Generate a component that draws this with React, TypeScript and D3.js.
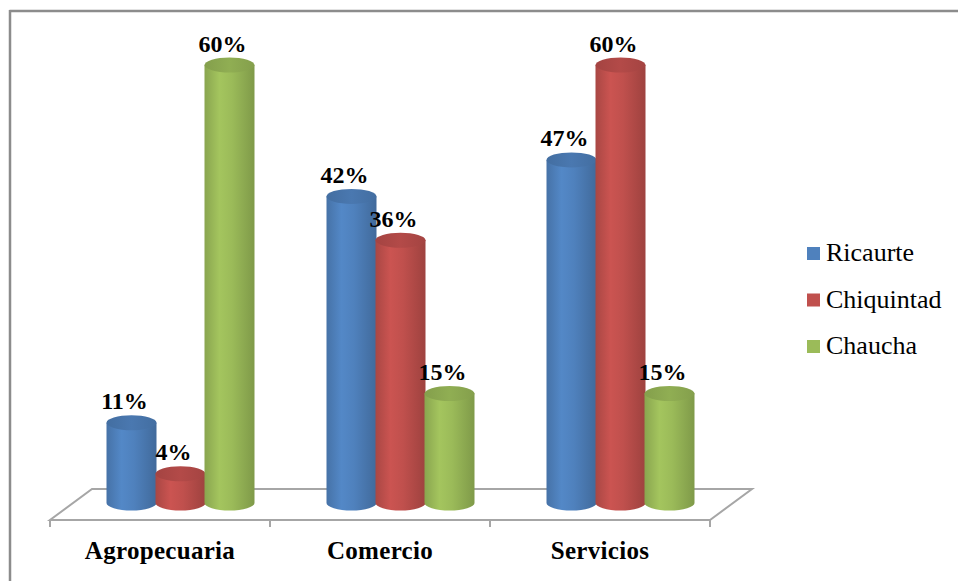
import React from "react";
import * as d3 from "d3";

const categories = ["Agropecuaria", "Comercio", "Servicios"];
const seriesNames = ["Ricaurte", "Chiquintad", "Chaucha"];
const ricaurte = [11, 42, 47];
const chiquintad = [4, 36, 60];
const chaucha = [60, 15, 15];
const seriesValues = [ricaurte, chiquintad, chaucha];
const colors = ["#4F81BD", "#C0504D", "#9BBB59"];

const W = 958;
const H = 581;

export default function App() {
  const floorFrontY = 520;
  const floorBackY = 489;
  const depthDx = 42;
  const x = d3.scaleBand<string>().domain(categories).range([50, 710]).padding(0);
  const y = d3.scaleLinear().domain([0, 60]).range([503, 65]);
  const sub = d3
    .scaleBand<string>()
    .domain(seriesNames)
    .range([-74, 73])
    .padding(0);
  const rx = 25;
  const ry = 7.5;

  const gradId = (i: number) => `body${i}`;
  const topId = (i: number) => `top${i}`;

  const lighten = (c: string, k: number) => d3.color(c)!.brighter(k).formatHex();
  const darken = (c: string, k: number) => d3.color(c)!.darker(k).formatHex();

  return (
    <svg
      width={W}
      height={H}
      style={{ position: "absolute", left: 0, top: 0, background: "#fff" }}
      fontFamily="'Liberation Serif', 'Times New Roman', serif"
    >
      <defs>
        {colors.map((c, i) => (
          <linearGradient key={i} id={gradId(i)} x1="0" x2="1" y1="0" y2="0">
            <stop offset="0" stopColor={darken(c, 0.35)} />
            <stop offset="0.3" stopColor={lighten(c, 0.15)} />
            <stop offset="0.55" stopColor={c} />
            <stop offset="1" stopColor={darken(c, 0.55)} />
          </linearGradient>
        ))}
        {colors.map((c, i) => (
          <linearGradient key={i} id={topId(i)} x1="0" x2="1" y1="0" y2="0">
            <stop offset="0" stopColor={darken(c, 0.45)} />
            <stop offset="0.5" stopColor={darken(c, 0.2)} />
            <stop offset="1" stopColor={darken(c, 0.45)} />
          </linearGradient>
        ))}
      </defs>

      {/* frame */}
      <line x1={9.5} x2={W} y1={11} y2={11} stroke="#8c8c8c" strokeWidth={2.5} />
      <line x1={10} x2={10} y1={10} y2={H} stroke="#8c8c8c" strokeWidth={2.5} />

      {/* floor */}
      <path
        d={`M${x.range()[0]},${floorFrontY} L${x.range()[1]},${floorFrontY} L${x.range()[1] + depthDx},${floorBackY} L${x.range()[0] + depthDx},${floorBackY} Z`}
        fill="#fff"
        stroke="#a6a6a6"
        strokeWidth={2}
      />
      {[...categories.map((c) => x(c)!), x.range()[1]].map((tx, i) => (
        <line key={i} x1={tx} x2={tx} y1={floorFrontY} y2={floorFrontY + 7} stroke="#a6a6a6" strokeWidth={2} />
      ))}

      {/* cylinders */}
      {categories.map((cat, ci) => {
        const gx = x(cat)! + x.bandwidth() / 2 + depthDx / 2;
        return (
          <g key={cat}>
            {seriesNames.map((s, si) => {
              const v = seriesValues[si][ci];
              const cx = gx + sub(s)! + sub.bandwidth() / 2;
              const yt = y(v);
              const yb = y(0);
              const l = cx - rx;
              const r = cx + rx;
              const body = `M${l},${yt} L${l},${yb} A${rx},${ry} 0 0 0 ${r},${yb} L${r},${yt} Z`;
              return (
                <g key={s}>
                  <path d={body} fill={`url(#${gradId(si)})`} />
                  <ellipse cx={cx} cy={yt} rx={rx} ry={ry} fill={`url(#${topId(si)})`} />
                  <text
                    x={cx - 7}
                    y={yt - ry - 6}
                    textAnchor="middle"
                    fontWeight="bold"
                    fontSize={24}
                    fill="#000"
                  >
                    {v}%
                  </text>
                </g>
              );
            })}
          </g>
        );
      })}

      {/* category labels */}
      {categories.map((cat) => (
        <text
          key={cat}
          x={x(cat)! + x.bandwidth() / 2}
          y={559}
          textAnchor="middle"
          fontWeight="bold"
          fontSize={25}
          letterSpacing={0.3}
          fill="#000"
        >
          {cat}
        </text>
      ))}

      {/* legend */}
      {seriesNames.map((s, i) => (
        <g key={s} transform={`translate(807, ${261 + i * 46.5})`}>
          <rect x={0} y={-14} width={13} height={13} fill={colors[i]} />
          <text x={19} y={0} fontSize={26} fill="#000">
            {s}
          </text>
        </g>
      ))}
    </svg>
  );
}
